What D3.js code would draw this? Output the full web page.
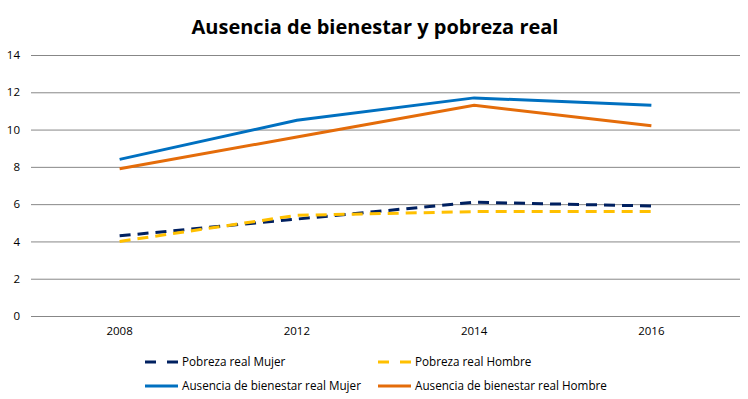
<!DOCTYPE html>
<html>
<head>
<meta charset="utf-8">
<script src="https://cdn.jsdelivr.net/npm/d3@7"></script>
<style>
  body { margin: 0; background: #fff; }
  svg { display: block; font-family: "Open Sans", "Noto Sans", sans-serif; }
</style>
</head>
<body>
<svg id="chart" width="748" height="399"></svg>
<script>
// data
var years = ["2008", "2012", "2014", "2016"];
var pobrezaMujer = [4.3, 5.2, 6.1, 5.9];
var pobrezaHombre = [4.0, 5.4, 5.6, 5.6];
var ausenciaMujer = [8.4, 10.5, 11.7, 11.3];
var ausenciaHombre = [7.9, 9.6, 11.3, 10.2];
var yTicks = [0, 2, 4, 6, 8, 10, 12, 14];

var series = [
  { name: "Pobreza real Mujer", values: pobrezaMujer, color: "#002060", dash: "11,7" },
  { name: "Pobreza real Hombre", values: pobrezaHombre, color: "#FFC000", dash: "11,7" },
  { name: "Ausencia de bienestar real Mujer", values: ausenciaMujer, color: "#0070C0", dash: null },
  { name: "Ausencia de bienestar real Hombre", values: ausenciaHombre, color: "#E46C0A", dash: null }
];

var svg = d3.select("#chart");
var plotLeft = 31, plotRight = 740, plotTop = 55, plotBottom = 316;
var fontFam = '"Open Sans", "Noto Sans", sans-serif';

var x = d3.scaleBand().domain(years).range([plotLeft, plotRight]);
var y = d3.scaleLinear().domain([0, 14]).range([plotBottom, plotTop]);

// title
svg.append("text")
  .attr("x", 375).attr("y", 34)
  .attr("text-anchor", "middle")
  .style("font-size", "20px").style("font-weight", "bold")
  .text("Ausencia de bienestar y pobreza real");

// gridlines + y labels
var yAxis = svg.append("g").attr("transform", "translate(" + plotLeft + ",0)")
  .call(d3.axisLeft(y).tickValues(yTicks).tickSize(-(plotRight - plotLeft)).tickPadding(11));
yAxis.attr("font-family", fontFam);
yAxis.select(".domain").remove();
yAxis.selectAll(".tick line").attr("stroke", "#878787").attr("stroke-width", 1);
yAxis.selectAll(".tick text").style("font-size", "11.5px").attr("fill", "#000");

// x labels
var xAxis = svg.append("g").attr("transform", "translate(0," + plotBottom + ")")
  .call(d3.axisBottom(x).tickSize(0).tickPadding(11));
xAxis.attr("font-family", fontFam);
xAxis.select(".domain").remove();
xAxis.selectAll(".tick text").style("font-size", "11.5px").attr("fill", "#000");

var line = d3.line()
  .x(function(d, i) { return x(years[i]) + x.bandwidth() / 2; })
  .y(function(d) { return y(d); });

// draw solid first, dashed on top
[2, 3, 0, 1].forEach(function(k) {
  var s = series[k];
  svg.append("path")
    .datum(s.values)
    .attr("d", line)
    .attr("fill", "none")
    .attr("stroke", s.color)
    .attr("stroke-width", 3)
    .attr("stroke-dasharray", s.dash);
});

// legend
var legendPos = [[145, 362], [378, 362], [145, 386], [378, 386]];
series.forEach(function(s, i) {
  var p = legendPos[i];
  var g = svg.append("g").attr("transform", "translate(" + p[0] + "," + p[1] + ")");
  g.append("line")
    .attr("x1", 0).attr("x2", 33).attr("y1", 0).attr("y2", 0)
    .attr("stroke", s.color).attr("stroke-width", 3)
    .attr("stroke-dasharray", s.dash ? "11,11" : null);
  g.append("text")
    .attr("x", 37).attr("y", 4)
    .style("font-size", "11.7px")
    .text(s.name);
});
</script>
</body>
</html>
